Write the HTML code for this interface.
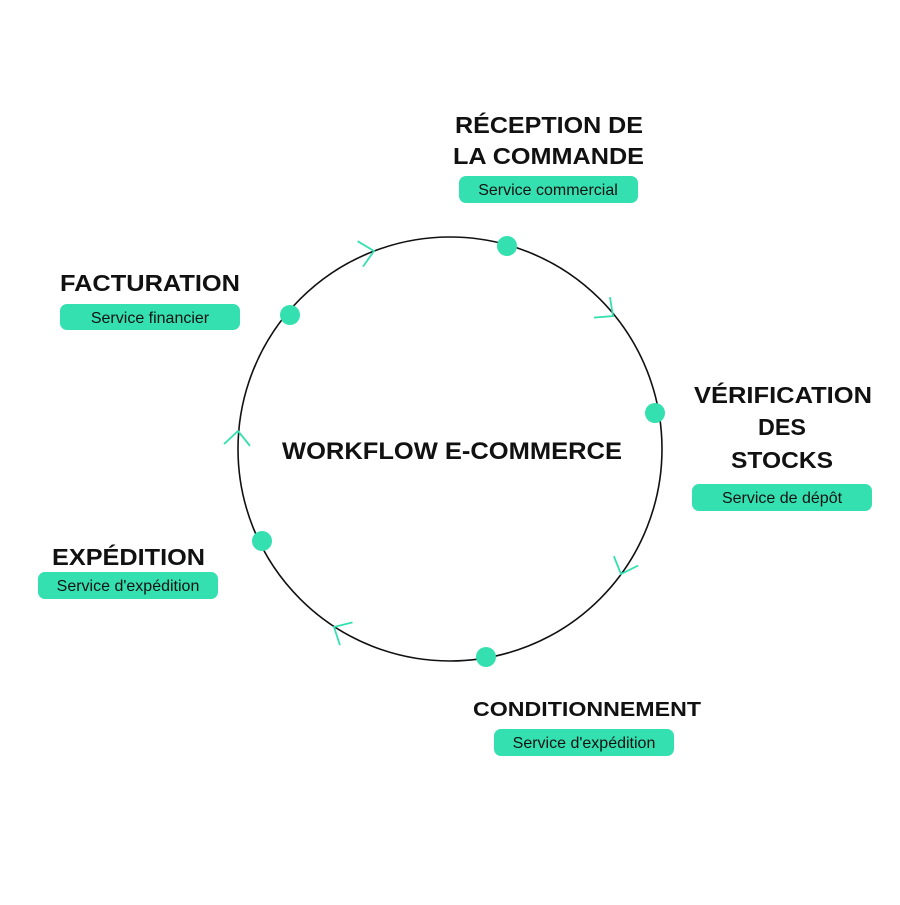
<!DOCTYPE html>
<html><head><meta charset="utf-8"><style>html,body{margin:0;padding:0;background:#fff}</style></head>
<body>
<svg width="900" height="900" viewBox="0 0 900 900" xmlns="http://www.w3.org/2000/svg" font-family="Liberation Sans, sans-serif">
<rect width="900" height="900" fill="#fff"/>
<circle cx="450" cy="449" r="212" fill="none" stroke="#111" stroke-width="1.6"/>
<g fill="none" stroke="#35e0b0" stroke-width="1.8">
<polyline points="-14,-13 0,0 -14,13" transform="translate(374,251) rotate(-12)"/>
<polyline points="-14,-13 0,0 -14,13" transform="translate(613,316) rotate(38)"/>
<polyline points="-14,-13 0,0 -14,13" transform="translate(621,574) rotate(111)"/>
<polyline points="-14,-13 0,0 -14,13" transform="translate(334,627) rotate(209)"/>
<polyline points="-14,-13 0,0 -14,13" transform="translate(238,431) rotate(274)"/>
</g>
<g fill="#35e0b0">
<circle cx="507" cy="246" r="10"/>
<circle cx="655" cy="413" r="10"/>
<circle cx="486" cy="657" r="10"/>
<circle cx="262" cy="541" r="10"/>
<circle cx="290" cy="315" r="10"/>
<rect x="459" y="176" width="179" height="27" rx="7"/>
<rect x="60" y="304" width="180" height="26" rx="7"/>
<rect x="692" y="484" width="180" height="27" rx="7"/>
<rect x="38" y="572" width="180" height="27" rx="7"/>
<rect x="494" y="729" width="180" height="27" rx="7"/>
</g>
<g font-weight="bold" fill="#111" font-size="23">
<text x="455" y="133" textLength="188" lengthAdjust="spacingAndGlyphs">RÉCEPTION DE</text>
<text x="453" y="164" textLength="191" lengthAdjust="spacingAndGlyphs">LA COMMANDE</text>
<text x="60" y="291" textLength="180" lengthAdjust="spacingAndGlyphs">FACTURATION</text>
<text x="694" y="403" textLength="178" lengthAdjust="spacingAndGlyphs">VÉRIFICATION</text>
<text x="758" y="435" textLength="48" lengthAdjust="spacingAndGlyphs">DES</text>
<text x="731" y="468" textLength="102" lengthAdjust="spacingAndGlyphs">STOCKS</text>
<text x="52" y="565" textLength="153" lengthAdjust="spacingAndGlyphs">EXPÉDITION</text>
<text x="473" y="716" font-size="20" textLength="228" lengthAdjust="spacingAndGlyphs">CONDITIONNEMENT</text>
<text x="282" y="459" font-size="24" textLength="340" lengthAdjust="spacingAndGlyphs">WORKFLOW E-COMMERCE</text>
</g>
<g fill="#111" font-size="16" text-anchor="middle">
<text x="548" y="195">Service commercial</text>
<text x="150" y="323">Service financier</text>
<text x="782" y="503">Service de dépôt</text>
<text x="128" y="591">Service d'expédition</text>
<text x="584" y="748">Service d'expédition</text>
</g>
</svg>
</body></html>
